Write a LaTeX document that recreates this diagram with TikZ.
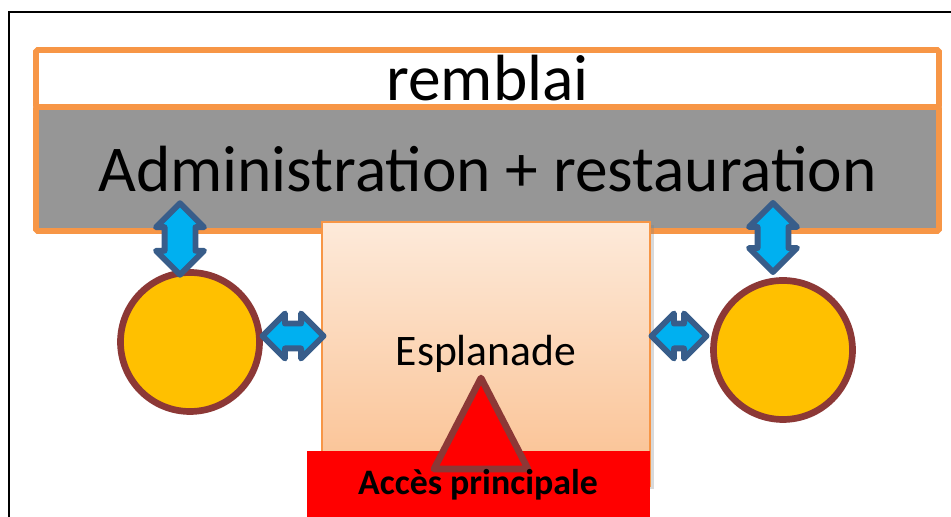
\documentclass[tikz,border=0pt]{standalone}
\usepackage{fontspec}
\setmainfont{Carlito}
\usepackage{xcolor}
\usepackage{tikz}
\usetikzlibrary{arrows.meta,positioning,shapes.arrows,shadows}
\definecolor{bandc}{RGB}{247,150,70}
\definecolor{admc}{RGB}{150,150,150}
\definecolor{esptop}{RGB}{253,234,218}
\definecolor{espbot}{RGB}{250,192,144}
\definecolor{sallec}{RGB}{255,192,0}
\definecolor{rimc}{RGB}{140,56,54}
\definecolor{flowc}{RGB}{0,176,240}
\definecolor{flowrim}{RGB}{56,93,138}
\definecolor{accc}{RGB}{255,0,0}
\tikzset{
  band/.style={draw=bandc,line width=3.4pt,rounded corners=1pt,minimum width=18.06cm,inner sep=0pt,outer sep=0pt,font=\fontsize{37.2}{40}\selectfont},
  espl/.style={draw=bandc,line width=0.8pt,top color=esptop,bottom color=espbot,minimum width=6.56cm,minimum height=5.28cm,inner sep=0pt,drop shadow={shadow xshift=0.07cm,shadow yshift=-0.07cm,opacity=0.3},font=\fontsize{24.8}{28}\selectfont},
  salle/.style={circle,draw=rimc,fill=sallec,line width=3.8pt,minimum size=2.78cm,inner sep=0pt},
  flow/.style={double arrow,draw=flowrim,fill=flowc,line width=3.4pt,line join=round,inner xsep=0pt},
  flowv/.style={flow,rotate=90,inner ysep=0.25cm,minimum width=0.84cm,double arrow head extend=0.17cm},
  flowh/.style={flow,inner ysep=0.19cm,minimum width=0.78cm,double arrow head extend=0.20cm},
}

\begin{document}
\begin{tikzpicture}[font=\footnotesize,>=Latex]
\useasboundingbox (0,0) rectangle (19.02,10.34);
% page frame, cut off on the right and at the bottom
\draw[line width=0.85pt] (0.18,0) -- (0.18,10.10) -- (19.02,10.10);
% remblai on top of the administration block
\node[band,fill=white,minimum height=1.14cm] (remblai) at (9.75,8.77) {remblai};
\node[band,fill=admc,minimum height=2.48cm] (admin) at (9.75,6.96) {Administration + restauration};
% esplanade and main access
\node[espl] (espl) at (9.72,3.26) {Esplanade};
\node[fill=accc,minimum width=6.86cm,minimum height=1.32cm,inner sep=0pt,anchor=north west] (acces) at (6.14,1.32) {};
\draw[rimc,fill=accc,line width=3.8pt,line join=round] (9.62,2.78) -- (10.56,0.96) -- (8.68,0.96) -- cycle;
\node[font=\bfseries\fontsize{20.4}{24}\selectfont,anchor=base] (acclbl) at (9.56,0.44) {Accès principale};
% the two side halls
\node[salle] (salleW) at (3.80,3.50) {};
\node[salle] (salleE) at (15.66,3.34) {};
% two-way links
\node[flowv,minimum height=1.43cm] (upW) at (3.60,5.56) {};
\node[flowv,minimum height=1.38cm] (upE) at (15.46,5.59) {};
\node[flowh,minimum height=1.22cm] (sideW) at (5.86,3.62) {};
\node[flowh,minimum height=1.10cm] (sideE) at (13.58,3.62) {};
\end{tikzpicture}
\end{document}
